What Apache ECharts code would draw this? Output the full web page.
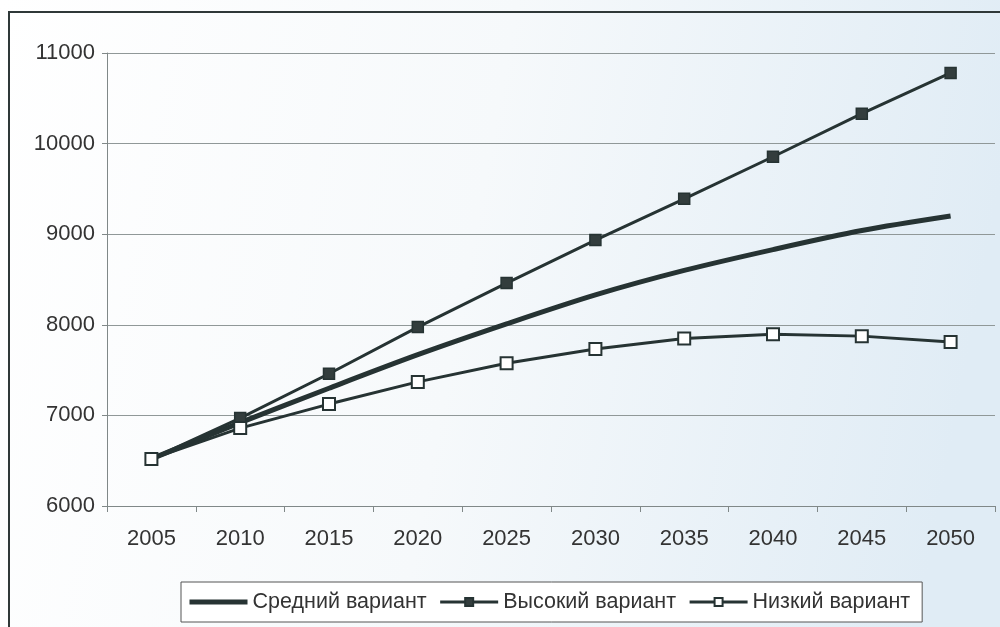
<!DOCTYPE html>
<html>
<head>
<meta charset="utf-8">
<script src="https://cdn.jsdelivr.net/npm/echarts@6/dist/echarts.min.js"></script>
<style>html,body{margin:0;padding:0;background:#fff;}#c{width:1000px;height:627px;}</style>
</head>
<body>
<div id="c"></div>
<script>
const years = ['2005','2010','2015','2020','2025','2030','2035','2040','2045','2050'];
const medium = [6520, 6920, 7300, 7670, 8010, 8330, 8600, 8830, 9040, 9200];
const high = [6520, 6970, 7460, 7975, 8460, 8935, 9390, 9855, 10330, 10780];
const low = [6520, 6860, 7125, 7370, 7575, 7733, 7850, 7895, 7875, 7810];
const names = ['Средний вариант', 'Высокий вариант', 'Низкий вариант'];

const ink = '#263333';
const chart = echarts.init(document.getElementById('c'));
chart.setOption({
  animation: false,
  backgroundColor: new echarts.graphic.LinearGradient(0, 0, 1, 0.3, [
    {offset: 0, color: '#ffffff'},
    {offset: 0.5, color: '#f6f9fb'},
    {offset: 1, color: '#e0ecf5'}
  ]),
  textStyle: {fontFamily: 'Liberation Sans, Arial, sans-serif'},
  graphic: [{
    type: 'rect', silent: true, z: 100,
    shape: {x: 9, y: 12, width: 1100, height: 800},
    style: {fill: 'none', stroke: '#2f3838', lineWidth: 2}
  }],
  grid: {left: 107, right: 5, top: 53, bottom: 121},
  legend: {
    left: 181, top: 582, height: 42,
    padding: [9, 12, 9, 6],
    itemGap: 12, itemWidth: 58, itemHeight: 10,
    borderColor: '#555', borderWidth: 1, backgroundColor: '#ffffff',
    textStyle: {fontSize: 21.5, color: '#333', padding: [0, 0, 0, 0]},
    data: [
      {name: names[0], itemStyle: {color: 'rgba(0,0,0,0)', borderWidth: 0, opacity: 0}, lineStyle: {width: 5}},
      {name: names[1], lineStyle: {width: 3}},
      {name: names[2], lineStyle: {width: 3}}
    ]
  },
  xAxis: {
    type: 'category', data: years, boundaryGap: true,
    axisLine: {lineStyle: {color: '#808888', width: 1}},
    axisTick: {show: true, length: 6, lineStyle: {color: '#808888'}},
    axisLabel: {fontSize: 22, color: '#333', margin: 22}
  },
  yAxis: {
    type: 'value', min: 6000, max: 11000, interval: 1000,
    axisLine: {show: true, lineStyle: {color: '#808888', width: 1}},
    axisTick: {show: true, length: 5, lineStyle: {color: '#808888'}},
    axisLabel: {fontSize: 22, color: '#333', margin: 12, formatter: v => String(v)},
    splitLine: {lineStyle: {color: '#909898', width: 1}}
  },
  series: [
    {name: names[0], type: 'line', data: medium, smooth: 0.3, symbol: 'none',
     lineStyle: {color: ink, width: 5}, itemStyle: {color: ink}, z: 3},
    {name: names[1], type: 'line', data: high, symbol: 'rect', symbolSize: 11,
     lineStyle: {color: ink, width: 3},
     itemStyle: {color: '#333d3d', borderColor: ink, borderWidth: 1.5}, z: 4},
    {name: names[2], type: 'line', data: low, symbol: 'rect', symbolSize: 12,
     lineStyle: {color: ink, width: 3},
     itemStyle: {color: '#ffffff', borderColor: ink, borderWidth: 2}, z: 5}
  ]
});
</script>
</body>
</html>
